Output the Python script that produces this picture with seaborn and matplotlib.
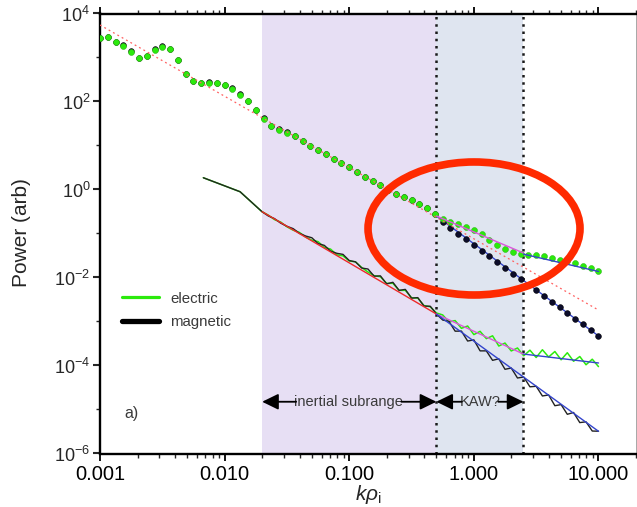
import numpy as np
import pandas as pd
import matplotlib
matplotlib.use("Agg")
import matplotlib.pyplot as plt
import seaborn as sns
from matplotlib.patches import Ellipse
from matplotlib.lines import Line2D

sns.set_style("ticks")
plt.rcParams['font.family'] = ['Liberation Sans', 'DejaVu Sans']
plt.rcParams['mathtext.fontset'] = 'custom'
plt.rcParams['mathtext.rm'] = 'Liberation Sans'
plt.rcParams['mathtext.it'] = 'Liberation Sans:italic'
plt.rcParams['mathtext.bf'] = 'Liberation Sans:bold'

# ---------------- data ----------------
k_upper = [0.001000, 0.001155, 0.001334, 0.001540, 0.001778, 0.002054, 0.002371, 0.002738,
           0.003162, 0.003652, 0.004217, 0.004870, 0.005623, 0.006494, 0.007499, 0.008660,
           0.01000, 0.01155, 0.01334, 0.01540, 0.01778, 0.02054, 0.02371, 0.02738,
           0.03162, 0.03652, 0.04217, 0.04870, 0.05623, 0.06494, 0.07499, 0.08660,
           0.1000, 0.1155, 0.1334, 0.1540, 0.1778, 0.2054, 0.2371, 0.2738,
           0.3162, 0.3652, 0.4217, 0.4870, 0.5623, 0.6494, 0.7499, 0.8660,
           1.000, 1.155, 1.334, 1.540, 1.778, 2.054, 2.371, 2.738,
           3.162, 3.652, 4.217, 4.870, 5.623, 6.494, 7.499, 8.660, 10.00]

electric_upper = [2730, 2890, 2250, 1850, 1360, 975, 1080, 1500, 1760, 1520,
                  880, 420, 285, 260, 266, 261, 237, 195, 144, 100,
                  64, 41, 27.8, 23, 19.6, 16.1, 12.5, 9.6, 7.9, 6.3,
                  4.9, 3.9, 3.2, 2.46, 1.92, 1.53, 1.24, 0.96, 0.79, 0.66,
                  0.565, 0.468, 0.38, 0.277, 0.214, 0.182, 0.163, 0.141, 0.119, 0.095,
                  0.072, 0.056, 0.045, 0.038, 0.034, 0.0325, 0.0325, 0.0308, 0.028, 0.0254,
                  0.0234, 0.021, 0.0185, 0.0163, 0.0137]

magnetic_upper = [2790, 2950, 2300, 1880, 1390, 990, 1100, 1540, 1800, 1560,
                  900, 430, 290, 266, 272, 266, 242, 199, 147, 102,
                  65, 42, 28.4, 23.5, 20, 16.4, 12.8, 9.8, 8.1, 6.4,
                  5.0, 4.0, 3.27, 2.51, 1.96, 1.56, 1.27, 0.98, 0.81, 0.67,
                  0.575, 0.476, 0.385, 0.28, 0.179, 0.133, 0.0985, 0.0734, 0.0545, 0.0404,
                  0.0302, 0.0224, 0.0166, 0.0123, 0.0092, 0.00683, 0.0051, 0.00378, 0.0028, 0.00209,
                  0.00155, 0.00115, 0.00086, 0.00064, 0.00047]

k_lower = [0.00675, 0.0133,
           0.01995, 0.02239, 0.02512, 0.02818, 0.03162, 0.03548, 0.03981, 0.04467, 0.05012, 0.05623,
           0.06310, 0.07079, 0.07943, 0.08913, 0.1000, 0.1122, 0.1259, 0.1413, 0.1585, 0.1778,
           0.1995, 0.2239, 0.2512, 0.2818, 0.3162, 0.3548, 0.3981, 0.4467, 0.5012, 0.5623,
           0.6310, 0.7079, 0.7943, 0.8913, 1.000, 1.122, 1.259, 1.413, 1.585, 1.778,
           1.995, 2.239, 2.512, 2.818, 3.162, 3.548, 3.981, 4.467, 5.012, 5.623,
           6.310, 7.079, 7.943, 8.913, 10.00]

electric_lower = [1.85, 0.89,
                  0.313, 0.262, 0.207, 0.182, 0.142, 0.119, 0.106, 0.0832, 0.0705, 0.0654,
                  0.0483, 0.0442, 0.0328, 0.031, 0.0237, 0.0227, 0.0169, 0.0133, 0.011, 0.0104,
                  0.00735, 0.00738, 0.0051, 0.0051, 0.00347, 0.0034, 0.0023, 0.00216, 0.00156,
                  0.00141, 0.000975, 0.00105, 0.0007, 0.00079, 0.000504, 0.000598, 0.000408,
                  0.000473, 0.000277, 0.000324, 0.000214, 0.00025, 0.000166, 0.000223, 0.000152,
                  0.000228, 0.000156, 0.000208, 0.000135, 0.000195, 0.000125, 0.00016, 0.000104,
                  0.000139, 0.0000944]

magnetic_lower = [1.85, 0.89,
                  0.313, 0.251, 0.218, 0.172, 0.146, 0.129, 0.101, 0.0877, 0.080, 0.059,
                  0.0537, 0.0398, 0.0355, 0.0335, 0.0243, 0.0227, 0.0164, 0.0156, 0.0107, 0.0109,
                  0.00716, 0.00778, 0.0051, 0.00537, 0.00339, 0.00349, 0.00224, 0.00222, 0.00148,
                  0.00108, 0.00101, 0.000602, 0.000606, 0.00036, 0.000382, 0.000215, 0.000215,
                  0.000131, 0.000142, 0.000082, 0.0000877, 0.000052, 0.0000548, 0.0000328, 0.0000337,
                  0.0000203, 0.0000214, 0.0000122, 0.0000129, 0.00000778, 0.00000855, 0.00000504,
                  0.00000525, 0.00000324, 0.00000321]

# power-law fit segments (end points)
fit_upper_k = [0.001, 10.0]
fit_upper = [5480, 0.00182]
fit_lower_k = [0.02, 0.5]
fit_lower = [0.313, 0.00148]
kaw_fit_k = [0.5, 2.5]
kaw_fit_upper = [0.25, 0.036]
kaw_fit_lower = [0.00148, 0.000182]
high_fit_k = [2.5, 10.0]
high_fit_upper = [0.034, 0.0137]
high_fit_lower = [0.000182, 0.000114]
mag_fit_k = [0.5, 10.0]
mag_fit_upper = [0.25, 0.00047]
mag_fit_lower = [0.00148, 0.0000032]

region_edges = [0.02, 0.5, 2.5]
legend_labels = ["electric", "magnetic"]
x_ticks = [0.001, 0.01, 0.1, 1, 10]
x_ticklabels = ["0.001", "0.010", "0.100", "1.000", "10.000"]
y_ticks = [1e-6, 1e-4, 1e-2, 1e0, 1e2, 1e4]
y_ticklabels = [r"$10^{-6}$", r"$10^{-4}$", r"$10^{-2}$", r"$10^{0}$", r"$10^{2}$", r"$10^{4}$"]
y_minor = [1e-5, 1e-3, 1e-1, 1e1, 1e3]

GREEN = "#2bea0c"

# ---------------- figure ----------------
fig = plt.figure(figsize=(6.37, 5.07), dpi=100)
ax = fig.add_axes([100 / 637, 1 - 453.5 / 507, 536 / 637, 440 / 507])
ax.set_xscale("log")
ax.set_yscale("log")

ax.axvspan(region_edges[0], region_edges[1], color="#e7dff4", zorder=0, lw=0)
ax.axvspan(region_edges[1], region_edges[2], color="#dfe5f0", zorder=0, lw=0)
for xe in region_edges[1:]:
    ax.axvline(xe, color="#1a1a1a", ls=(0, (1, 1.9)), lw=1.8, zorder=1)

def line(kv, pv, color, lw, ls="-", z=2):
    df = pd.DataFrame({"k": kv, "power": pv})
    sns.lineplot(data=df, x="k", y="power", color=color, lw=lw, ls=ls, ax=ax,
                 estimator=None, sort=False, legend=False, zorder=z)

# lower (line) spectra
line(k_lower, electric_lower, GREEN, 1.1, z=2)
line(k_lower, magnetic_lower, "#222222", 1.0, z=3)
line(fit_lower_k, fit_lower, "#ee2a2a", 1.0, z=4)
line(kaw_fit_k, kaw_fit_lower, "#dd55dd", 1.0, z=4)
line(high_fit_k, high_fit_lower, "#3344cc", 1.0, z=4)
line(mag_fit_k, mag_fit_lower, "#3344cc", 1.0, z=4)

# upper (marker) spectra
df_mag = pd.DataFrame({"k": k_upper, "power": magnetic_upper})
df_ele = pd.DataFrame({"k": k_upper, "power": electric_upper})
line(mag_fit_k, mag_fit_upper, "#3344cc", 1.0, z=4)
sns.scatterplot(data=df_mag, x="k", y="power", color="#0c0c2a", s=17, edgecolor="#000000",
                linewidth=0.4, ax=ax, legend=False, zorder=5)
sns.scatterplot(data=df_ele, x="k", y="power", color=GREEN, s=18, edgecolor="#2fb81a",
                linewidth=0.4, ax=ax, legend=False, zorder=6)
line(kaw_fit_k, kaw_fit_upper, "#dd55dd", 1.0, z=7)
line(high_fit_k, high_fit_upper, "#3344cc", 1.0, z=7)
line(fit_upper_k, fit_upper, "#ff6060", 0.9, ls=(0, (1.5, 2.5)), z=7)

ax.set_xlim(0.001, 20.0)
ax.set_ylim(1e-6, 1e4)

# ticks
ax.set_xticks(x_ticks)
ax.set_xticklabels(x_ticklabels)
ax.set_yticks(y_ticks)
ax.set_yticklabels(y_ticklabels)
ax.set_yticks(y_minor, minor=True)
ax.tick_params(axis="x", which="major", direction="out", length=5, width=1.3,
               labelsize=14.5, pad=3, top=True, colors="black")
ax.tick_params(axis="x", which="minor", direction="out", length=3, width=1.0, top=True)
ax.tick_params(axis="y", which="major", direction="out", length=5, width=1.5,
               labelsize=13, pad=2)
ax.tick_params(axis="y", which="minor", direction="out", length=3, width=1.0)
ax.yaxis.set_minor_formatter(matplotlib.ticker.NullFormatter())
ax.xaxis.set_minor_formatter(matplotlib.ticker.NullFormatter())

for s in ["left", "bottom", "top"]:
    ax.spines[s].set_linewidth(1.7)
    ax.spines[s].set_color("black")
ax.spines["right"].set_linewidth(0.6)
ax.spines["right"].set_color("#999999")

ax.set_ylabel("Power (arb)", fontsize=15)
ax.yaxis.set_label_coords(-0.128, 0.503)
ax.set_xlabel(r"$k\rho_{\mathregular{i}}$", fontsize=15)
ax.xaxis.set_label_coords(0.5, -0.068)

# legend
handles = [Line2D([], [], color=GREEN, lw=2.3), Line2D([], [], color="black", lw=3.8)]
leg = ax.legend(handles, legend_labels, loc="upper left", bbox_to_anchor=(0.041, 0.368),
                frameon=False, fontsize=10.8, handlelength=2.5, handletextpad=0.7,
                labelspacing=0.62, borderaxespad=0, borderpad=0)
for t in leg.get_texts():
    t.set_color("#3a3a3a")

# annotations
ax.text(0.0448, 0.092, "a)", transform=ax.transAxes, fontsize=11.5, color="#3a3a3a",
        ha="left", va="center")
y_arrow = 1.5e-5
ax.text(0.0977, y_arrow, "inertial subrange", fontsize=10.5, color="#3a3a3a",
        ha="center", va="center", zorder=8)
ax.text(1.12, y_arrow, "KAW?", fontsize=10.5, color="#3a3a3a", ha="center", va="center", zorder=8)
aprops = dict(arrowstyle="-|>,head_length=0.45,head_width=0.22", color="black", lw=1.3,
              shrinkA=0, shrinkB=0, mutation_scale=22)
for start, end in [(0.0375, 0.02), (0.262, 0.5), (0.80, 0.5), (1.57, 2.5)]:
    ax.annotate("", xy=(end, y_arrow), xytext=(start, y_arrow), arrowprops=aprops, zorder=8)

# highlight ellipse
ell = Ellipse((0.6978, 0.5114), 0.3955, 0.3023, transform=ax.transAxes, fill=False,
              edgecolor="#ff2a00", lw=5.5, zorder=10, clip_on=False)
ax.add_patch(ell)

fig.savefig("out.png", dpi=100)
